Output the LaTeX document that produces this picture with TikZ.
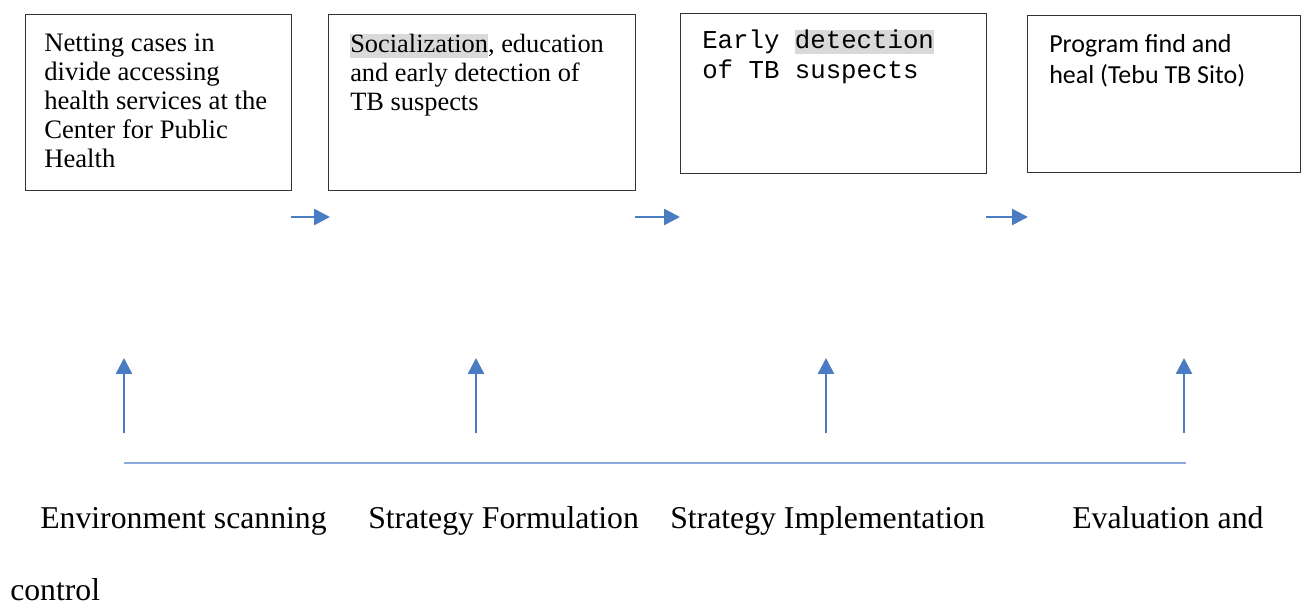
\documentclass[tikz,border=0pt]{standalone}
\usepackage{fontspec}
\setmainfont{Liberation Serif}
\newfontfamily\monofont{Liberation Mono}
\newfontfamily\calfont{Carlito}
\usetikzlibrary{arrows.meta}
\definecolor{arrowblue}{HTML}{4A7CC4}
\definecolor{lineblue}{HTML}{8EAADB}
\definecolor{hlgray}{HTML}{D9D9D9}
\definecolor{boxline}{HTML}{333333}
\newcommand{\hlword}[1]{{\setlength{\fboxsep}{0pt}\colorbox{hlgray}{\vphantom{Tg}#1}}}
\tikzset{
  stagebox/.style={draw=boxline, line width=1.1pt},
  boxtext/.style={anchor=north west, inner sep=0pt, align=left},
  flowarrow/.style={draw=arrowblue, line width=2pt, -{Triangle[length=12pt,width=12pt]}},
  baseline line/.style={draw=lineblue, line width=1.5pt},
  stagelabel/.style={anchor=base west, inner sep=0pt, font=\fontsize{23.8}{28}\selectfont}
}
\begin{document}
\begin{tikzpicture}[x=0.75pt,y=-0.75pt]
\useasboundingbox (0,0) rectangle (1301,605);
% boxes
\node[stagebox, minimum width=266*0.75pt, minimum height=176*0.75pt, anchor=north west] (b1) at (25,14) {};
\node[stagebox, minimum width=307*0.75pt, minimum height=176*0.75pt, anchor=north west] (b2) at (328,14) {};
\node[stagebox, minimum width=306*0.75pt, minimum height=160*0.75pt, anchor=north west] (b3) at (680,13) {};
\node[stagebox, minimum width=273*0.75pt, minimum height=157*0.75pt, anchor=north west] (b4) at (1027,15) {};
% box texts
\node[boxtext, font=\fontsize{20}{21.75}\selectfont] (t1) at (44,34) {Netting cases in\\divide accessing\\health services at the\\Center for Public\\Health};
\node[boxtext, font=\fontsize{19.8}{21.75}\selectfont] (t2) at (350,34) {\hlword{Socialization}, education\\and early detection of\\TB suspects};
\node[boxtext, font=\fontsize{19.3}{22.5}\selectfont\monofont] (t3) at (702,30) {Early \hlword{detection}\\of TB suspects};
\node[boxtext, font=\fontsize{19.5}{23.25}\selectfont\calfont] (t4) at (1049,34) {Program find and\\heal (Tebu TB Sito)};
% horizontal arrows between boxes
\coordinate (h1s) at (291,217); \coordinate (h1e) at (330,217);
\coordinate (h2s) at (635,217); \coordinate (h2e) at (680,217);
\coordinate (h3s) at (986,217); \coordinate (h3e) at (1028,217);
\draw[flowarrow] (h1s) -- (h1e);
\draw[flowarrow] (h2s) -- (h2e);
\draw[flowarrow] (h3s) -- (h3e);
% vertical arrows
\coordinate (v1s) at (124,433); \coordinate (v1e) at (124,358);
\coordinate (v2s) at (476,433); \coordinate (v2e) at (476,358);
\coordinate (v3s) at (826,433); \coordinate (v3e) at (826,358);
\coordinate (v4s) at (1184,433); \coordinate (v4e) at (1184,358);
\draw[flowarrow] (v1s) -- (v1e);
\draw[flowarrow] (v2s) -- (v2e);
\draw[flowarrow] (v3s) -- (v3e);
\draw[flowarrow] (v4s) -- (v4e);
% baseline
\coordinate (la) at (124,463); \coordinate (lb) at (1186,463);
\draw[baseline line] (la) -- (lb);
% labels
\node[stagelabel] (l1) at (40,528) {Environment scanning};
\node[stagelabel] (l2) at (368,528) {Strategy Formulation};
\node[stagelabel] (l3) at (670,528) {Strategy Implementation};
\node[stagelabel] (l4) at (1072,528) {Evaluation and};
\node[stagelabel] (l5) at (10,600) {control};
\end{tikzpicture}
\end{document}
